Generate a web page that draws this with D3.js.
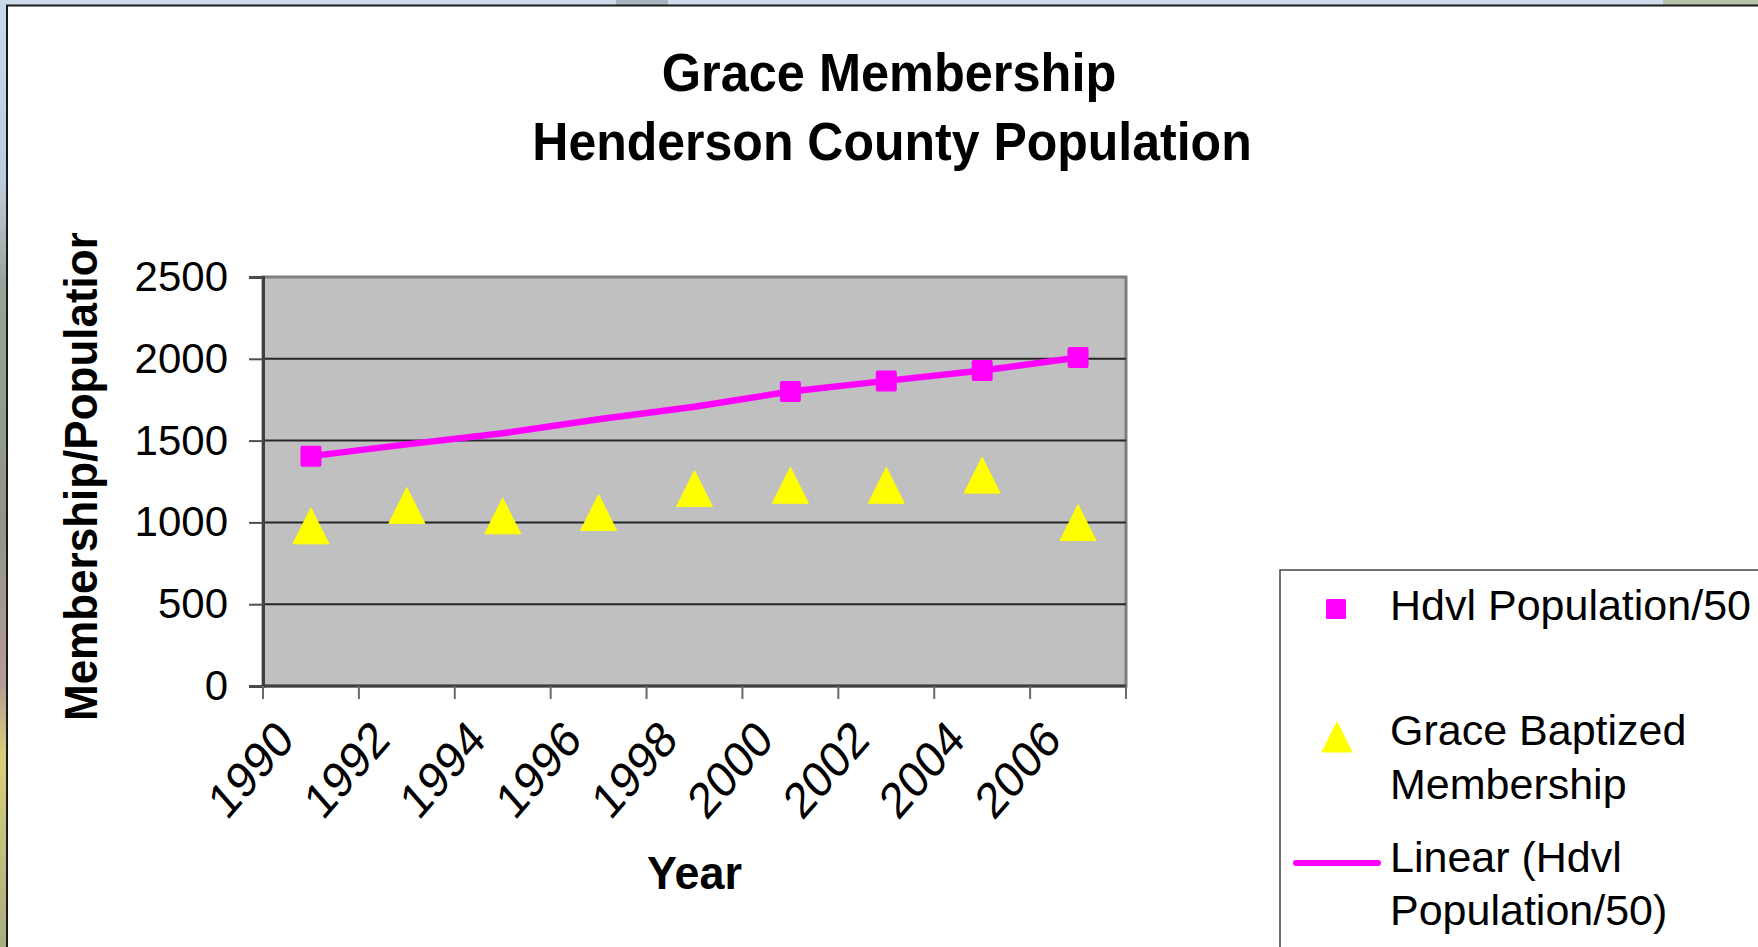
<!DOCTYPE html>
<html>
<head>
<meta charset="utf-8">
<script src="https://cdn.jsdelivr.net/npm/d3@7/dist/d3.min.js"></script>
<style>
  html, body { margin: 0; padding: 0; overflow: hidden; background: #fff; }
  svg { display: block; }
  text { font-family: "Liberation Sans", Arial, Helvetica, sans-serif; }
</style>
</head>
<body>
<svg id="chart" width="1758" height="947"></svg>
<script>
// ---- data ----
const years = ["1990", "1992", "1994", "1996", "1998", "2000", "2002", "2004", "2006"];
const hdvlPopulation = [1405, null, null, null, null, 1800, 1865, 1928, 2008];
const hdvlLinear = [1405, 1477, 1545, 1630, 1707, 1800, 1865, 1928, 2008];
const graceMembership = [979, 1104, 1040, 1061, 1207, 1227, 1227, 1289, 999];
const yTickValues = [0, 500, 1000, 1500, 2000, 2500];
const titleLines = ["Grace Membership", "Henderson County Population"];
const xTitle = "Year";
const yTitle = "Membership/Population";
const legendLabels = [["Hdvl Population/50"], ["Grace Baptized", "Membership"], ["Linear (Hdvl", "Population/50)"]];

const W = 1758, H = 947;
const svg = d3.select("#chart");
const defs = svg.append("defs");

// ---- background (photo edge around the chart) ----
const lg = defs.append("linearGradient").attr("id", "leftBg").attr("x1", 0).attr("y1", 0).attr("x2", 0).attr("y2", 1);
[[0, "#c9d9ea"], [0.2, "#bccbd8"], [0.3, "#9aa39a"], [0.55, "#8f9688"], [0.72, "#b69a98"], [0.8, "#d9d07a"], [1, "#a9ad82"]]
  .forEach(([o, c]) => lg.append("stop").attr("offset", o).attr("stop-color", c));
svg.append("rect").attr("x", 0).attr("y", 0).attr("width", W).attr("height", H).attr("fill", "#cddbea");
svg.append("rect").attr("x", 0).attr("y", 0).attr("width", 8).attr("height", H).attr("fill", "url(#leftBg)");
svg.append("rect").attr("x", 616).attr("y", 0).attr("width", 52).attr("height", 5).attr("fill", "#aab4c0");
svg.append("rect").attr("x", 1663).attr("y", 0).attr("width", 95).attr("height", 5).attr("fill", "#b7c2a8");

// chart area
svg.append("rect").attr("x", 7).attr("y", 5.5).attr("width", W + 20).attr("height", H + 20)
  .attr("fill", "#ffffff").attr("stroke", "#1a1a1a").attr("stroke-width", 2);

// ---- scales ----
const plot = { left: 263, right: 1126, top: 277, bottom: 686 };
const x = d3.scaleBand().domain(years).range([plot.left, plot.right]).paddingInner(0).paddingOuter(0);
const y = d3.scaleLinear().domain([0, 2500]).range([plot.bottom, plot.top]);
const cx = d => x(d) + x.bandwidth() / 2;

// ---- titles ----
const title = svg.append("g").attr("font-weight", "bold").attr("font-size", 50).attr("fill", "#000").attr("text-anchor", "middle");
title.append("text").attr("transform", "translate(889,91) scale(1.01,1.06)").text(titleLines[0]);
title.append("text").attr("transform", "translate(892,160) scale(1,1.06)").text(titleLines[1]);

// ---- plot area ----
svg.append("rect").attr("x", plot.left).attr("y", plot.top)
  .attr("width", plot.right - plot.left).attr("height", plot.bottom - plot.top)
  .attr("fill", "#c0c0c0").attr("stroke", "#7f7f7f").attr("stroke-width", 3);

// gridlines
svg.append("g").selectAll("line").data(yTickValues.filter(v => v > 0 && v < 2500)).join("line")
  .attr("x1", plot.left).attr("x2", plot.right)
  .attr("y1", d => y(d)).attr("y2", d => y(d))
  .attr("stroke", "#262626").attr("stroke-width", 2);

// y axis
const yAxis = svg.append("g").attr("transform", `translate(${plot.left},0)`)
  .call(d3.axisLeft(y).tickValues(yTickValues).tickFormat(d3.format("d")).tickSize(14).tickPadding(21));
yAxis.select(".domain").attr("stroke", "#404040").attr("stroke-width", 3);
yAxis.selectAll(".tick line").attr("stroke", "#505050").attr("stroke-width", 2);
yAxis.selectAll(".tick text").attr("font-size", 42).attr("fill", "#000")
  .attr("font-family", "'Liberation Sans', Arial, sans-serif");

// x axis
const xAxis = svg.append("g");
xAxis.append("line").attr("x1", plot.left).attr("x2", plot.right).attr("y1", plot.bottom).attr("y2", plot.bottom)
  .attr("stroke", "#404040").attr("stroke-width", 3);
const bounds = years.map(d => x(d)).concat([x.range()[1]]);
xAxis.selectAll("line.tk").data(bounds).join("line").attr("class", "tk")
  .attr("x1", d => d).attr("x2", d => d).attr("y1", plot.bottom).attr("y2", plot.bottom + 13)
  .attr("stroke", "#6a6a6a").attr("stroke-width", 2);
xAxis.selectAll("text").data(years).join("text")
  .attr("transform", d => `translate(${cx(d) - 15},742) scale(1,1.15) rotate(-45)`)
  .attr("text-anchor", "end").attr("font-size", 44).attr("fill", "#000").text(d => d);

// axis titles
svg.append("text").attr("transform", `translate(${(plot.left + plot.right) / 2},889) scale(1.02,1.03)`)
  .attr("text-anchor", "middle").attr("font-weight", "bold").attr("font-size", 44).text(xTitle);
defs.append("clipPath").attr("id", "yTitleClip").append("rect")
  .attr("x", 0).attr("y", 233).attr("width", 200).attr("height", 700);
svg.append("g").attr("clip-path", "url(#yTitleClip)")
  .append("text").attr("transform", "translate(97,721) rotate(-90) scale(1,1.06)")
  .attr("text-anchor", "start").attr("font-weight", "bold").attr("font-size", 44).text(yTitle);

// ---- series ----
const MAGENTA = "#ff00ff", YELLOW = "#ffff00";
const line = d3.line().x((d, i) => cx(years[i])).y(d => y(d));
svg.append("path").datum(hdvlLinear).attr("d", line)
  .attr("fill", "none").attr("stroke", MAGENTA).attr("stroke-width", 6.5).attr("stroke-linejoin", "round");

const sq = 21;
svg.append("g").selectAll("rect").data(years.map((d, i) => ({ d, v: hdvlPopulation[i] })).filter(p => p.v != null))
  .join("rect")
  .attr("x", p => cx(p.d) - sq / 2).attr("y", p => y(p.v) - sq / 2)
  .attr("width", sq).attr("height", sq).attr("rx", 2).attr("fill", MAGENTA);

const tri = (px, py, s) => `M${px},${py - s / 2}L${px + s / 2},${py + s / 2}L${px - s / 2},${py + s / 2}Z`;
svg.append("g").selectAll("path").data(years.map((d, i) => ({ d, v: graceMembership[i] })))
  .join("path")
  .attr("d", p => tri(cx(p.d), y(p.v), 36)).attr("fill", YELLOW)
  .attr("stroke", YELLOW).attr("stroke-width", 1).attr("stroke-linejoin", "round");

// ---- legend ----
const leg = svg.append("g");
leg.append("rect").attr("x", 1280).attr("y", 570).attr("width", 600).attr("height", 500)
  .attr("fill", "#fff").attr("stroke", "#444").attr("stroke-width", 1.5);
leg.append("rect").attr("x", 1326).attr("y", 599).attr("width", 20).attr("height", 20).attr("rx", 1.5).attr("fill", MAGENTA);
leg.append("path").attr("d", tri(1337, 737, 30)).attr("fill", YELLOW).attr("stroke", YELLOW).attr("stroke-linejoin", "round");
leg.append("line").attr("x1", 1296).attr("x2", 1378).attr("y1", 863).attr("y2", 863)
  .attr("stroke", MAGENTA).attr("stroke-width", 6).attr("stroke-linecap", "round");
const legBase = [[620], [745, 799], [872, 925]];
legendLabels.forEach((lines, i) => {
  lines.forEach((t, j) => {
    leg.append("text").attr("x", 1390).attr("y", legBase[i][j]).attr("font-size", 43).attr("fill", "#000").text(t);
  });
});
</script>
</body>
</html>
